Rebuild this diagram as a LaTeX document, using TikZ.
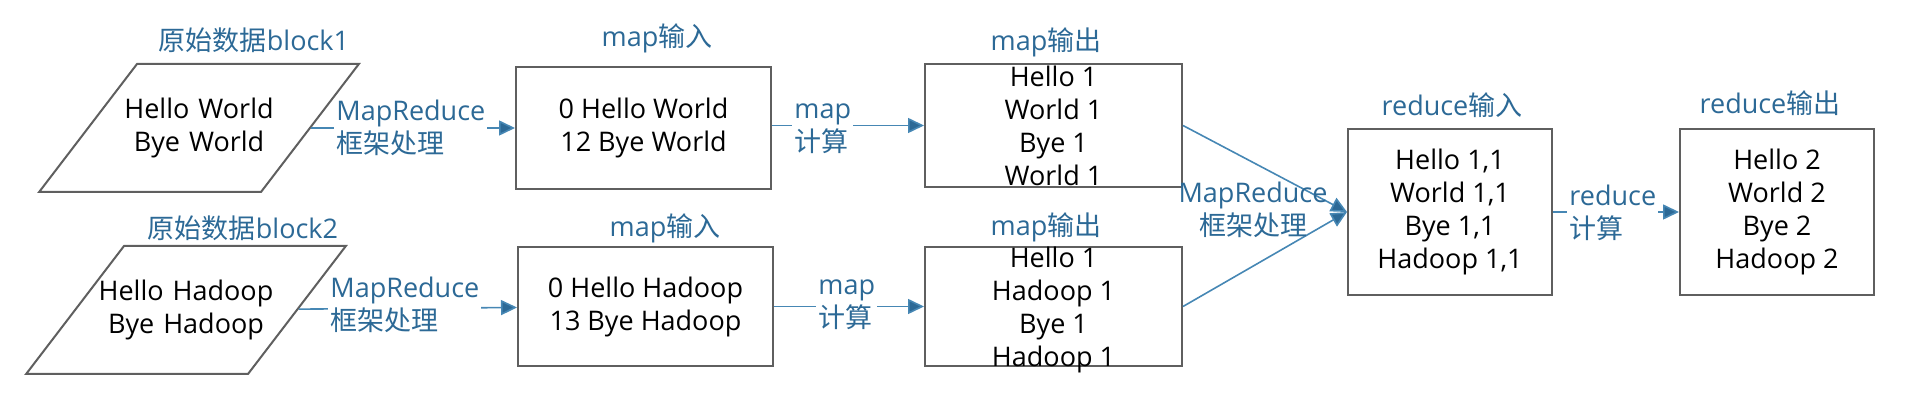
\documentclass[tikz,border=0pt]{standalone}
\usepackage{fontspec}
\setmainfont{Open Sans}
\newfontfamily\cjk{Noto Sans CJK SC}
\usetikzlibrary{shapes.geometric,arrows.meta}
\definecolor{tagblue}{RGB}{44,105,150}
\definecolor{lineblue}{RGB}{70,135,180}
\definecolor{boxgray}{RGB}{95,95,95}
\newcommand\blkline[1]{\makebox[\linewidth]{#1}}
\begin{document}
\begin{tikzpicture}[x=0.5pt,y=-0.5pt,
    every node/.style={font=\fontsize{13.5}{16.5}\selectfont},
    box/.style={draw=boxgray,line width=1pt,align=center,inner sep=0pt},
    blk/.style={box,trapezium,trapezium left angle=52.6,trapezium right angle=127.4,
      inner ysep=17pt,text width=62pt},
    tag/.style={text=tagblue},
    lbl/.style={tag,align=left,fill=white,inner sep=1pt},
    flow/.style={draw=lineblue,line width=0.8pt,-{Triangle[length=8pt,width=7.5pt,fill=tagblue]}}]
  \useasboundingbox (0,0) rectangle (1928,400);

  % input blocks
  \node[blk] (blk1) at (199,128) {\blkline{Hello World}\\\blkline{Bye World}};
  \node[blk] (blk2) at (186,310) {\blkline{Hello Hadoop}\\\blkline{Bye Hadoop}};
  \node[tag] (tb1) at (254,40) {{\cjk 原始数据}block1};
  \node[tag] (tb2) at (243,228) {{\cjk 原始数据}block2};

  % map input / output
  \node[box,minimum width=127.5pt,minimum height=61pt] (min1) at (643.5,128) {0 Hello World\\12 Bye World};
  \node[box,minimum width=127.5pt,minimum height=59.5pt] (min2) at (645.5,306.5) {0 Hello Hadoop\\13 Bye Hadoop};
  \node[tag] (tmi1) at (657,38) {map{\cjk 输入}};
  \node[tag] (tmi2) at (665,228) {map{\cjk 输入}};

  \node[box,minimum width=128.5pt,minimum height=61.5pt,text depth=0pt] (mout1) at (1053.5,125.5) {Hello 1\\World 1\\Bye 1\\World 1};
  \node[box,minimum width=128.5pt,minimum height=59.5pt,text depth=0pt] (mout2) at (1053.5,306.5) {Hello 1\\Hadoop 1\\Bye 1\\Hadoop 1};
  \node[tag] (tmo1) at (1046,42) {map{\cjk 输出}};
  \node[tag] (tmo2) at (1046,227) {map{\cjk 输出}};

  % reduce
  \node[box,minimum width=102pt,minimum height=83pt] (rin) at (1450,212) {Hello 1,1\\World 1,1\\Bye 1,1\\Hadoop 1,1};
  \node[box,minimum width=97pt,minimum height=83pt] (rout) at (1777,212) {Hello 2\\World 2\\Bye 2\\Hadoop 2};
  \node[tag] (tri) at (1452,105) {reduce{\cjk 输入}};
  \node[tag] (tro) at (1770,103) {reduce{\cjk 输出}};

  % connectors
  \draw[flow] (blk1) -- (min1);
  \node[lbl,anchor=west] (f1) at (334,128) {MapReduce\\{\cjk 框架处理}};
  \draw[flow] (blk2) -- (min2);
  \node[lbl,anchor=west] (f2) at (328,305) {MapReduce\\{\cjk 框架处理}};

  \draw[flow] (min1.east |- mout1) -- (mout1);
  \node[lbl,anchor=west] (c1) at (792,128.5) {map\\{\cjk 计算}};
  \draw[flow] (min2) -- (mout2);
  \node[lbl,anchor=west] (c2) at (816,305) {map\\{\cjk 计算}};

  \draw[flow] (mout1.east) -- (rin.west);
  \draw[flow] (mout2.east) -- (rin.west);
  \node[tag,align=center] (f3) at (1253,210) {MapReduce\\{\cjk 框架处理}};

  \draw[flow] (rin) -- (rout);
  \node[lbl,anchor=west] (c3) at (1567,213) {reduce\\{\cjk 计算}};
\end{tikzpicture}
\end{document}
